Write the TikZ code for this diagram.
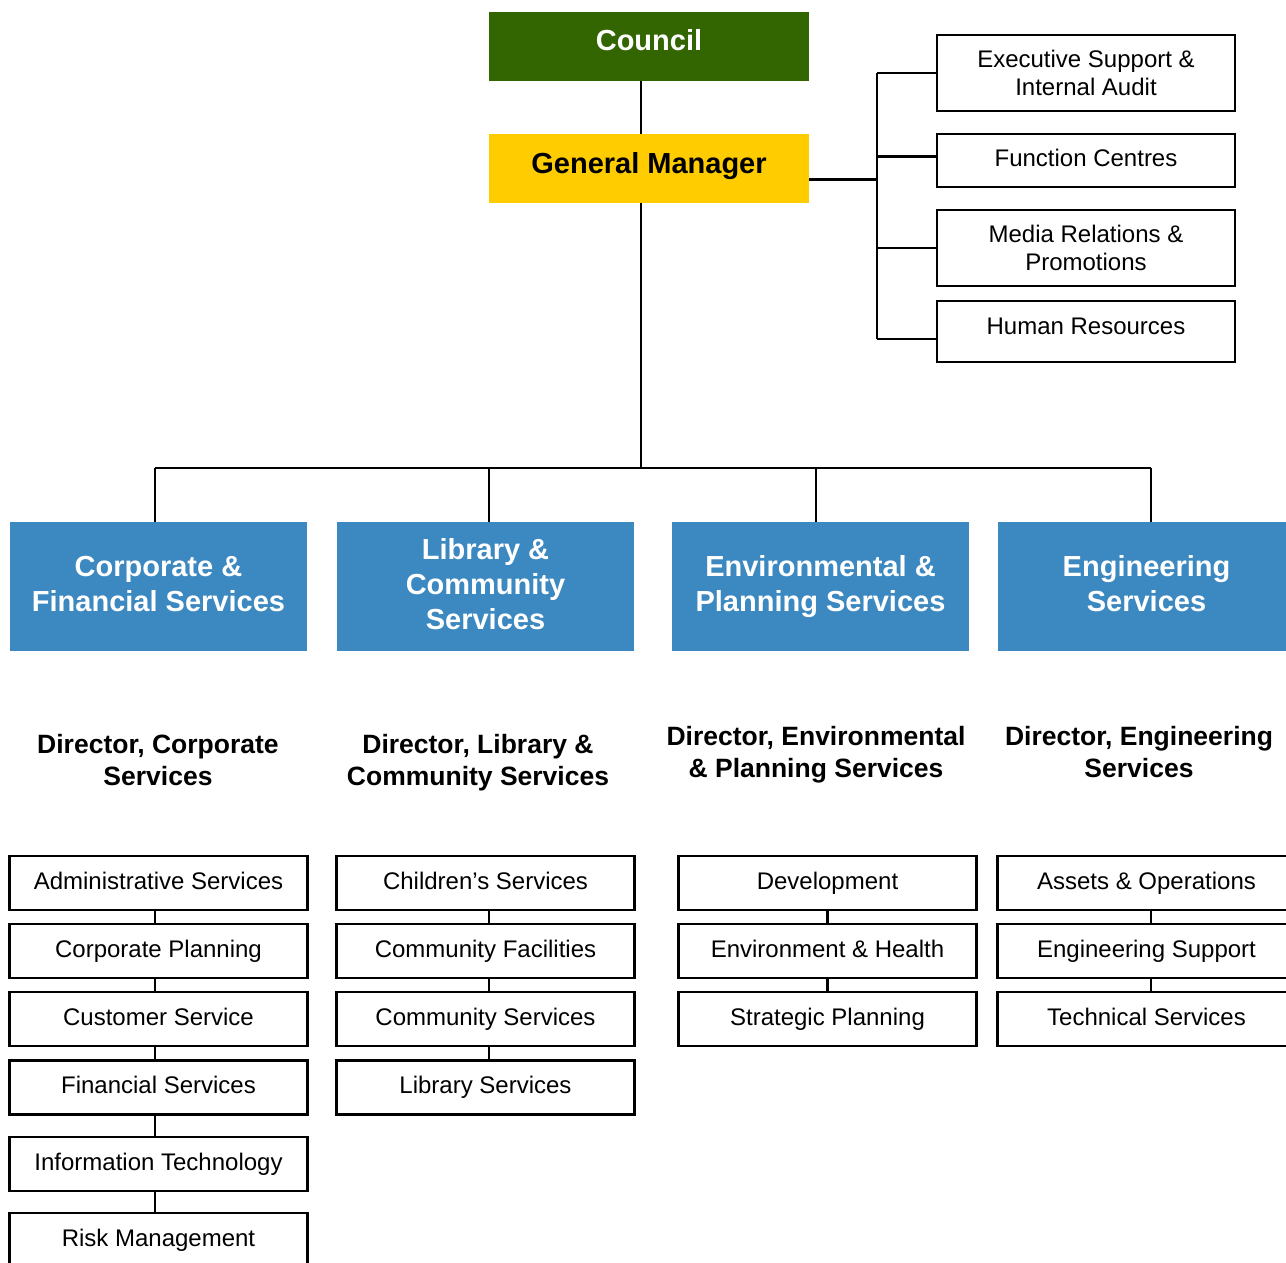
\documentclass[tikz,border=0pt]{standalone}
\usepackage{fontspec}
\setmainfont{Liberation Sans}
\definecolor{cgreen}{RGB}{51,102,0}
\definecolor{cyellow}{RGB}{255,204,0}
\definecolor{cblue}{RGB}{60,136,192}
\newcommand\dstrut{\rule[-6pt]{0pt}{6pt}}
\begin{document}
\begin{tikzpicture}[x=1pt,y=-1pt,
  conn/.style={line width=2.5pt},
  topbox/.style={minimum width=320pt, minimum height=69pt, inner sep=0pt, align=center,
    font=\fontsize{29}{35}\selectfont\bfseries, text height=21pt, text depth=12pt},
  sbox/.style={draw=black, line width=2.5pt, fill=white, minimum width=298pt,
    inner sep=0pt, align=center, font=\fontsize{24}{28}\selectfont},
  single/.style={text height=17.5pt, text depth=5.5pt},
  wbox/.style={sbox, single, minimum height=54pt},
  bluebox/.style={fill=cblue, text=white, minimum width=297pt, minimum height=129pt, inner sep=0pt,
    align=center, font=\fontsize{29}{35}\selectfont\bfseries},
  dirlabel/.style={align=center, inner sep=0pt, font=\fontsize{26.5}{32}\selectfont\bfseries}
]
\useasboundingbox (0,0) rectangle (1286,1263);

% top
\node[topbox, fill=cgreen, text=white] (council) at (649,46.5) {Council};
\node[topbox, fill=cyellow, text=black] (gm) at (649,168.5) {General Manager};

% right side units
\node[sbox, minimum height=76pt] (exec) at (1086,73) {Executive Support \&\\Internal Audit};
\node[sbox, single, minimum height=53pt] (func) at (1086,160.5) {Function Centres};
\node[sbox, minimum height=76pt] (media) at (1086,248) {Media Relations \&\\Promotions};
\node[sbox, single, text depth=11.5pt, minimum height=61pt] (hr) at (1086,331.5) {Human Resources};

\coordinate (spinetop) at (877,73);
\coordinate (spinebot) at (877,339);
\coordinate (busmid) at (641,468);
\coordinate (busL) at (155,468);
\coordinate (busR) at (1151,468);
\coordinate (bus2) at (489,468);
\coordinate (bus3) at (816,468);

% divisions
\node[bluebox] (corp) at (158.5,586.5) {Corporate \&\\Financial Services\dstrut};
\node[bluebox] (lib) at (485.5,586.5) {Library \&\\Community\\Services\dstrut};
\node[bluebox] (env) at (820.5,586.5) {Environmental \&\\Planning Services};
\node[bluebox] (eng) at (1146.5,586.5) {Engineering\\Services\dstrut};

% directors
\node[dirlabel] (dcorp) at (158,760) {Director, Corporate\\Services};
\node[dirlabel] (dlib) at (478,763) {Director, Library \&\\Community Services};
\node[dirlabel] (denv) at (816,755) {Director, Environmental\\\& Planning Services};
\node[dirlabel] (deng) at (1139,752) {Director, Engineering\\Services};

% column 1
\node[wbox] (a1) at (158.5,883) {Administrative Services};
\node[wbox] (a2) at (158.5,951) {Corporate Planning};
\node[wbox] (a3) at (158.5,1019) {Customer Service};
\node[wbox] (a4) at (158.5,1087.5) {Financial Services};
\node[wbox] (a5) at (158.5,1164) {Information Technology};
\node[wbox] (a6) at (158.5,1240) {Risk Management};
% column 2
\node[wbox] (b1) at (485.5,883) {Children’s Services};
\node[wbox] (b2) at (485.5,951) {Community Facilities};
\node[wbox] (b3) at (485.5,1019) {Community Services};
\node[wbox] (b4) at (485.5,1087.5) {Library Services};
% column 3
\node[wbox] (c1) at (827.5,883) {Development};
\node[wbox] (c2) at (827.5,951) {Environment \& Health};
\node[wbox] (c3) at (827.5,1019) {Strategic Planning};
% column 4
\node[wbox] (d1) at (1146.5,883) {Assets \& Operations};
\node[wbox] (d2) at (1146.5,951) {Engineering Support};
\node[wbox] (d3) at (1146.5,1019) {Technical Services};

% connectors top
\draw[conn] ([xshift=-8pt]council.south) -- ([xshift=-8pt]gm.north);
\draw[conn] ([xshift=-8pt]gm.south) -- (busmid);
\draw[conn] ([yshift=-11pt]gm.east) -- ([yshift=-11pt]gm.east -| spinetop);
\draw[conn] (spinetop) -- (spinebot);
\draw[conn] (spinetop) -- (exec.west);
\draw[conn] ([yshift=4pt]spinetop |- func.west) -- ([yshift=4pt]func.west);
\draw[conn] (spinetop |- media.west) -- (media.west);
\draw[conn] (spinebot) -- (spinebot -| hr.west);

% bus
\draw[conn] (busL) -- (busR);
\draw[conn] (busL) -- (busL |- corp.north);
\draw[conn] (bus2) -- (bus2 |- lib.north);
\draw[conn] (bus3) -- (bus3 |- env.north);
\draw[conn] (busR) -- (busR |- eng.north);

% chains
\foreach \u/\v in {a1/a2,a2/a3,a3/a4,a4/a5,a5/a6}
  \draw[conn] ([xshift=-3.5pt]\u.south) -- ([xshift=-3.5pt]\v.north);
\foreach \u/\v in {b1/b2,b2/b3,b3/b4}
  \draw[conn] ([xshift=3.5pt]\u.south) -- ([xshift=3.5pt]\v.north);
\foreach \u/\v in {c1/c2,c2/c3}
  \draw[conn] (\u.south) -- (\v.north);
\foreach \u/\v in {d1/d2,d2/d3}
  \draw[conn] ([xshift=4.5pt]\u.south) -- ([xshift=4.5pt]\v.north);
\end{tikzpicture}
\end{document}
